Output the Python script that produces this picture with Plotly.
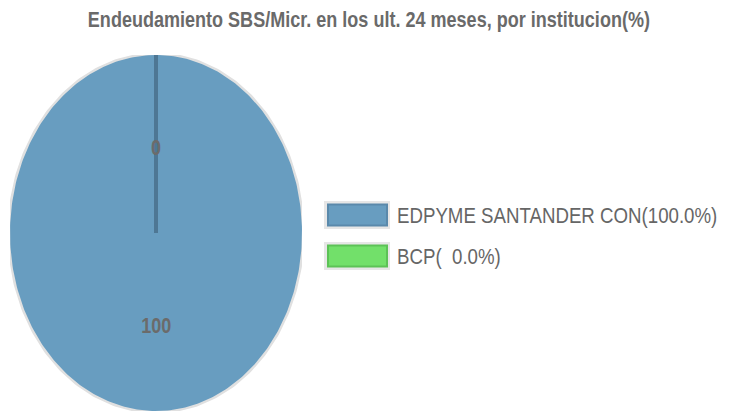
import numpy as np
import plotly.graph_objects as go

title = "Endeudamiento SBS/Micr. en los ult. 24 meses, por institucion(%)"
institutions = ["EDPYME SANTANDER CON", "BCP"]
values = [100, 0]
colors = ["#689dc0", "#72e06a"]
border_colors = ["#5a89ab", "#5cc256"]

FONT = "Liberation Sans, Arial, sans-serif"
W, H = 738, 413
OFF = 8  # page body margin in the browser

fig = go.Figure()

total = float(sum(values))
fracs = [v / total for v in values]
cum = np.concatenate([[0.0], np.cumsum(fracs)])

# halo around the pie
t = np.linspace(0, 2 * np.pi, 361)
fig.add_trace(go.Scatter(x=np.cos(t), y=np.sin(t), mode="lines",
                         line=dict(color="#e0e0e0", width=5),
                         hoverinfo="skip", showlegend=False))

# slices (clockwise from 12 o'clock)
for i, (name, f) in enumerate(zip(institutions, fracs)):
    a0 = np.pi / 2 - 2 * np.pi * cum[i]
    a1 = np.pi / 2 - 2 * np.pi * cum[i + 1]
    n = max(2, int(abs(a1 - a0) / (2 * np.pi) * 360) + 2)
    ang = np.linspace(a0, a1, n)
    xs = np.concatenate([[0], np.cos(ang), [0]])
    ys = np.concatenate([[0], np.sin(ang), [0]])
    fig.add_trace(go.Scatter(x=xs, y=ys, mode="lines", fill="toself",
                             fillcolor=colors[i], line=dict(width=0, color=colors[i]),
                             name=name, hoverinfo="name", showlegend=False))

# radial slice boundaries
for i in range(len(values)):
    a = np.pi / 2 - 2 * np.pi * cum[i]
    fig.add_trace(go.Scatter(x=[0, np.cos(a)], y=[0, np.sin(a)], mode="lines",
                             line=dict(color="rgba(78,118,146,0.8)", width=4),
                             hoverinfo="skip", showlegend=False))

shapes, annotations = [], []

# value labels at half radius along the slice mid-angle
for i, v in enumerate(values):
    m = np.pi / 2 - 2 * np.pi * (cum[i] + cum[i + 1]) / 2
    annotations.append(dict(xref="x", yref="y", x=0.5 * np.cos(m), y=0.5 * np.sin(m),
                            xanchor="center", yanchor="middle", showarrow=False,
                            yshift=-3, text=f"<b>{v}</b>",
                            font=dict(family=FONT, size=22, color="#6b6b6b")))

# legend drawn manually
lx0, ly0, step = 327 - OFF, 215 - OFF, 41
for i, name in enumerate(institutions):
    yc = ly0 + i * step
    shapes.append(dict(type="rect", xref="paper", yref="paper",
                       x0=(lx0 - 3) / W, x1=(lx0 + 63) / W,
                       y0=1 - (yc + 14) / H, y1=1 - (yc - 14) / H,
                       fillcolor="#e6e6e6", line=dict(width=0), layer="above"))
    shapes.append(dict(type="rect", xref="paper", yref="paper",
                       x0=(lx0 + 1) / W, x1=(lx0 + 60) / W,
                       y0=1 - (yc + 10.5) / H, y1=1 - (yc - 10.5) / H,
                       fillcolor=colors[i], line=dict(color=border_colors[i], width=2),
                       layer="above"))
    pct = 100.0 * values[i] / total
    label = f"{name}({pct:5.1f}%)".replace(" ", "&nbsp;")
    annotations.append(dict(xref="paper", yref="paper", x=(lx0 + 69) / W, y=1 - yc / H,
                            xanchor="left", yanchor="middle", align="left", showarrow=False,
                            borderpad=0, text=label,
                            font=dict(family=FONT, size=22.8, color="#666666")))

annotations.append(dict(xref="paper", yref="paper", x=(369 - OFF) / W, y=1 - (20 - OFF) / H,
                        xanchor="center", yanchor="middle", showarrow=False,
                        text=f"<b>{title}</b>",
                        font=dict(family=FONT, size=22, color="#6a6a6a")))

fig.update_layout(
    width=W, height=H,
    margin=dict(l=0, r=0, t=0, b=0),
    paper_bgcolor="white", plot_bgcolor="white",
    showlegend=False,
    shapes=shapes, annotations=annotations,
    xaxis=dict(domain=[(10 - OFF) / W, (302 - OFF) / W], range=[-1, 1], visible=False, fixedrange=True),
    yaxis=dict(domain=[1 - (411 - OFF) / H, 1 - (55 - OFF) / H], range=[-1, 1], visible=False, fixedrange=True),
)

# the reference uses a condensed face: squeeze text horizontally around its anchor
squeeze_js = """
var gd = document.getElementById('{plot_id}');
gd.querySelectorAll('text.annotation-text').forEach(function(t){
  var b = t.getBBox();
  var a = t.getAttribute('text-anchor');
  var cx = a === 'start' ? b.x : (a === 'end' ? b.x + b.width : b.x + b.width / 2);
  var prev = t.getAttribute('transform') || '';
  t.setAttribute('transform', prev + ' translate(' + cx + ',0) scale(0.82,1) translate(' + (-cx) + ',0)');
});
"""

fig.write_html("out.html", post_script=squeeze_js)
